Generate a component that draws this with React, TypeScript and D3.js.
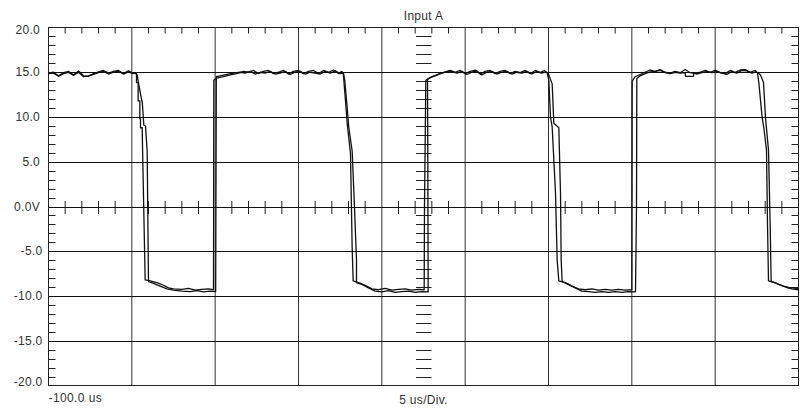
import React from "react";
import * as d3 from "d3";

// Time axis (microseconds) and voltage axis
const timeDomain: [number, number] = [-100, -55];
const voltDomain: [number, number] = [-20, 20];
const yTickValues = [20, 15, 10, 5, 0, -5, -10, -15, -20];
const yTickLabels = ["20.0", "15.0", "10.0", "5.0", "0.0V", "-5.0", "-10.0", "-15.0", "-20.0"];
const title = "Input A";
const startLabel = "-100.0 us";
const scaleLabel = "5 us/Div.";

// Trace A (t in us, volts)
const traceA: [number, number][] = [
  [-100, 14.9], [-99.7, 15.0], [-99.4, 14.6], [-99.1, 14.95], [-98.8, 15.1], [-98.5, 14.7], [-98.2, 15.15], [-97.9, 14.6], [-97.6, 14.55], [-97.3, 14.85], [-97.0, 15.05], [-96.7, 15.2], [-96.4, 14.9], [-96.1, 15.1], [-95.8, 15.2], [-95.5, 14.85], [-95.2, 15.15], [-94.95, 14.9], [-94.78, 14.9],
  [-94.72, 14.8], [-94.72, 13.85], [-94.62, 13.85], [-94.62, 11.8], [-94.52, 11.8], [-94.52, 9.8], [-94.48, 9.8], [-94.48, 8.8], [-94.38, 8.8], [-94.32, 3.0], [-94.2, -8.2],
  [-93.9, -8.3], [-93.5, -8.5], [-93.1, -8.8], [-92.8, -9.1], [-92.5, -9.2], [-92.0, -9.25], [-91.6, -9.15], [-91.2, -9.35], [-90.8, -9.25], [-90.4, -9.2], [-90.12, -9.3],
  [-90.1, -9.3], [-90.08, 14.1], [-89.9, 14.35], [-89.5, 14.5], [-89.1, 14.7], [-88.7, 14.85], [-88.3, 15.1],
  [-88.0, 15.0], [-87.7, 15.2], [-87.4, 14.85], [-87.1, 15.1], [-86.8, 15.2], [-86.5, 14.85], [-86.2, 15.0], [-85.9, 15.2], [-85.6, 14.8], [-85.3, 15.1], [-85.0, 15.2], [-84.7, 14.85], [-84.4, 15.1], [-84.1, 15.2], [-83.8, 14.85], [-83.5, 15.2], [-83.2, 15.0], [-82.9, 15.25], [-82.6, 14.85], [-82.4, 15.1], [-82.32, 14.9],
  [-82.28, 14.1], [-82.18, 11.8], [-82.08, 9.3], [-81.88, 5.9], [-81.78, -4.6], [-81.72, -8.3],
  [-81.4, -8.5], [-81.0, -8.8], [-80.6, -9.2], [-80.2, -9.3], [-79.8, -9.15], [-79.4, -9.35], [-79.0, -9.25], [-78.6, -9.2], [-78.2, -9.35], [-77.8, -9.25], [-77.46, -9.3],
  [-77.44, 0], [-77.36, 14.1], [-77.1, 14.4], [-76.8, 14.6], [-76.5, 14.85], [-76.2, 15.05],
  [-75.9, 15.2], [-75.6, 15.0], [-75.3, 15.2], [-75.0, 14.85], [-74.7, 15.1], [-74.4, 15.25], [-74.1, 14.8], [-73.8, 15.1], [-73.5, 15.2], [-73.2, 14.85], [-72.9, 15.1], [-72.6, 15.2], [-72.3, 14.85], [-72.0, 15.1], [-71.7, 14.95], [-71.4, 15.2], [-71.1, 14.85], [-70.8, 15.2], [-70.5, 14.95], [-70.25, 15.2], [-70.08, 14.9],
  [-69.98, 14.1], [-69.88, 10.0], [-69.78, 8.9], [-69.58, 1.5], [-69.48, -6.0], [-69.38, -8.3],
  [-69.0, -8.5], [-68.6, -8.9], [-68.2, -9.2], [-67.8, -9.3], [-67.4, -9.2], [-67.0, -9.35], [-66.6, -9.25], [-66.2, -9.35], [-65.8, -9.25], [-65.4, -9.35], [-65.0, -9.3],
  [-64.98, 14.0], [-64.8, 14.5], [-64.5, 14.75], [-64.2, 15.0], [-63.9, 15.25],
  [-63.6, 15.1], [-63.3, 15.3], [-63.0, 15.0], [-62.7, 14.9], [-62.4, 15.1], [-62.1, 14.95], [-61.8, 15.3], [-61.5, 14.95], [-61.2, 14.85], [-60.9, 15.0], [-60.6, 15.2], [-60.3, 15.0], [-60.0, 15.2], [-59.7, 14.95], [-59.4, 14.85], [-59.1, 15.2], [-58.8, 14.95], [-58.5, 15.25], [-58.2, 15.3], [-57.9, 15.0], [-57.6, 15.2], [-57.46, 14.9],
  [-57.38, 13.85], [-57.18, 9.9], [-57.08, 8.8], [-56.92, 6.3], [-56.86, -2], [-56.8, -8.3],
  [-56.5, -8.45], [-56.2, -8.7], [-55.9, -8.9], [-55.6, -9.05], [-55.3, -9.1], [-55.0, -9.2],
];

// Trace B (t in us, volts)
const traceB: [number, number][] = [
  [-100, 14.85], [-99.7, 14.9], [-99.4, 14.55], [-99.1, 14.85], [-98.8, 15.0], [-98.5, 14.65], [-98.2, 15.0], [-97.9, 14.5], [-97.6, 14.6], [-97.3, 14.75], [-97.0, 14.95], [-96.7, 15.1], [-96.4, 14.8], [-96.1, 15.0], [-95.8, 15.1], [-95.5, 14.8], [-95.2, 15.05], [-94.95, 14.85], [-94.78, 14.9],
  [-94.68, 14.7], [-94.58, 13.6], [-94.4, 11.8], [-94.38, 11.8], [-94.28, 9.1], [-94.18, 9.0], [-94.08, 6.2], [-94.02, -5], [-94.0, -8.4],
  [-93.7, -8.6], [-93.3, -8.9], [-92.9, -9.2], [-92.5, -9.35], [-92.0, -9.45], [-91.5, -9.5], [-91.1, -9.4], [-90.7, -9.55], [-90.3, -9.45], [-89.97, -9.5],
  [-89.93, 14.5], [-89.7, 14.6], [-89.3, 14.75], [-88.9, 14.9], [-88.5, 15.0],
  [-88.2, 14.9], [-87.9, 15.1], [-87.6, 14.8], [-87.3, 15.0], [-87.0, 14.9], [-86.7, 15.1], [-86.4, 14.8], [-86.1, 14.9], [-85.8, 15.1], [-85.5, 14.75], [-85.2, 15.0], [-84.9, 15.1], [-84.6, 14.8], [-84.3, 15.0], [-84.0, 14.9], [-83.7, 14.8], [-83.4, 15.1], [-83.1, 14.9], [-82.8, 15.15], [-82.5, 14.85], [-82.3, 14.9],
  [-82.22, 14.0], [-82.1, 11.5], [-81.98, 8.8], [-81.78, 6.2], [-81.64, -0.1], [-81.52, -6.0], [-81.52, -8.5],
  [-81.2, -8.7], [-80.8, -9.1], [-80.4, -9.45], [-80.0, -9.55], [-79.6, -9.4], [-79.2, -9.6], [-78.8, -9.5], [-78.4, -9.45], [-78.0, -9.6], [-77.6, -9.5], [-77.22, -9.55],
  [-77.24, 5], [-77.26, 14.2], [-77.0, 14.5], [-76.7, 14.7], [-76.4, 14.9], [-76.1, 15.05],
  [-75.8, 15.1], [-75.5, 14.9], [-75.2, 15.1], [-74.9, 14.75], [-74.6, 15.0], [-74.3, 15.15], [-74.0, 14.7], [-73.7, 15.0], [-73.4, 15.1], [-73.1, 14.8], [-72.8, 15.0], [-72.5, 15.1], [-72.2, 14.8], [-71.9, 15.0], [-71.6, 14.9], [-71.3, 15.1], [-71.0, 14.8], [-70.7, 15.1], [-70.4, 14.9], [-70.15, 15.05], [-70.02, 14.9],
  [-69.78, 13.7], [-69.68, 9.3], [-69.38, 8.8], [-69.28, 1.5], [-69.24, -6.0], [-69.18, -8.4],
  [-68.8, -8.7], [-68.4, -9.1], [-68.0, -9.45], [-67.6, -9.5], [-67.2, -9.6], [-66.8, -9.5], [-66.4, -9.6], [-66.0, -9.5], [-65.6, -9.6], [-65.2, -9.5], [-64.78, -9.55],
  [-64.72, 0], [-64.7, 14.3], [-64.5, 14.6], [-64.2, 14.85], [-63.9, 15.05],
  [-63.6, 15.1], [-63.3, 15.2], [-63.0, 14.95], [-62.7, 14.85], [-62.4, 15.0], [-62.1, 14.9], [-61.8, 14.95], [-61.78, 14.55], [-61.3, 14.55], [-61.28, 14.95], [-61.1, 14.8], [-60.8, 14.95], [-60.5, 15.1], [-60.2, 14.95], [-59.9, 15.1], [-59.6, 14.9], [-59.3, 14.75], [-59.0, 15.1], [-58.7, 14.9], [-58.4, 15.2], [-58.1, 15.15], [-57.8, 14.9], [-57.55, 15.05], [-57.4, 14.9],
  [-57.28, 14.7], [-57.1, 13.85], [-56.98, 9.9], [-56.8, 6.3], [-56.7, -2], [-56.64, -8.4],
  [-56.3, -8.6], [-56.0, -8.85], [-55.7, -9.05], [-55.4, -9.2], [-55.0, -9.3],
];

const W = 808;
const H = 411;
const left = 48.5;
const right = 798.5;
const top = 27.5;
const bottom = 385.5;

export default function App() {
  const x = d3.scaleLinear().domain(timeDomain).range([left, right]);
  const y = d3.scaleLinear().domain(voltDomain).range([bottom, top]);
  const line = d3
    .line<[number, number]>()
    .x((d) => x(d[0]))
    .y((d) => y(d[1]));

  const majorT = d3.range(timeDomain[0] + 5, timeDomain[1], 5);
  const majorV = d3.range(voltDomain[0] + 5, voltDomain[1], 5);
  const minorT = d3.range(timeDomain[0] + 1, timeDomain[1], 1).filter((t) => Math.abs((t - timeDomain[0]) % 5) > 1e-6);
  const minorV = d3.range(voltDomain[0] + 1, voltDomain[1], 1).filter((v) => Math.abs((v - voltDomain[0]) % 5) > 1e-6);
  const centerT = (timeDomain[0] + timeDomain[1]) / 2;

  const font = "'Liberation Sans', Arial, Helvetica, sans-serif";
  const textColor = "#333";

  return (
    <svg width={W} height={H} style={{ position: "absolute", left: 0, top: 0, background: "#fff" }}>
      {majorT.map((t) => (
        <line key={"vg" + t} x1={x(t)} x2={x(t)} y1={top} y2={bottom} stroke="#333" strokeWidth={1} />
      ))}
      {majorV.map((v) => (
        <line key={"hg" + v} x1={left} x2={right} y1={Math.round(y(v)) + 0.5} y2={Math.round(y(v)) + 0.5} stroke="#111" strokeWidth={1} />
      ))}
      {minorT.map((t) => (
        <line key={"tt" + t} x1={x(t)} x2={x(t)} y1={top} y2={top + 6} stroke="#222" />
      ))}
      {minorT.map((t) => (
        <line key={"ct" + t} x1={x(t)} x2={x(t)} y1={Math.round(y(0)) - 6} y2={Math.round(y(0)) + 7} stroke="#222" />
      ))}
      {minorV.map((v) => (
        <g key={"lv" + v}>
          <line x1={left} x2={left + 7} y1={Math.round(y(v)) + 0.5} y2={Math.round(y(v)) + 0.5} stroke="#222" />
          <line x1={right - 7} x2={right} y1={Math.round(y(v)) + 0.5} y2={Math.round(y(v)) + 0.5} stroke="#222" />
          <line x1={x(centerT) - 7.5} x2={x(centerT) + 8} y1={Math.round(y(v)) + 0.5} y2={Math.round(y(v)) + 0.5} stroke="#222" />
        </g>
      ))}
      <rect x={left} y={top} width={right - left} height={bottom - top} fill="none" stroke="#222" strokeWidth={1} />
      <path d={line(traceB) ?? ""} fill="none" stroke="#111" strokeWidth={1.3} strokeLinejoin="round" />
      <path d={line(traceA) ?? ""} fill="none" stroke="#111" strokeWidth={1.3} strokeLinejoin="round" />
      {yTickValues.map((v, i) => {
        let by = y(v) + 4;
        if (i === 0) by = y(v) + 6;
        if (i === yTickValues.length - 1) by = y(v) + 0.5;
        return (
          <text key={"yl" + v} x={v < 0 ? 42.5 : 40} y={by} textAnchor="end" fontFamily={font} fontSize={12} letterSpacing={0.3} fill={textColor}>
            {yTickLabels[i]}
          </text>
        );
      })}
      <text x={x(centerT)} y={19.5} textAnchor="middle" fontFamily={font} fontSize={12} letterSpacing={0.3} fill={textColor}>
        {title}
      </text>
      <text x={left} y={402} textAnchor="start" fontFamily={font} fontSize={12} letterSpacing={0.4} fill={textColor}>
        {startLabel}
      </text>
      <text x={x(centerT)} y={403.5} textAnchor="middle" fontFamily={font} fontSize={12} letterSpacing={0.3} fill={textColor}>
        {scaleLabel}
      </text>
    </svg>
  );
}
